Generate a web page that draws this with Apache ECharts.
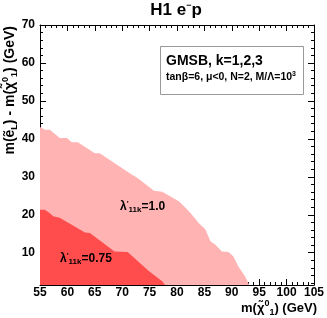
<!DOCTYPE html>
<html>
<head>
<meta charset="utf-8">
<script src="https://cdn.jsdelivr.net/npm/echarts@6/dist/echarts.min.js"></script>
<style>
html,body{margin:0;padding:0;background:#fff;}
#chart{width:327px;height:318px;}
</style>
</head>
<body>
<div id="chart"></div>
<script>
// ---- data ----
var xTickLabels = [55, 60, 65, 70, 75, 80, 85, 90, 95, 100, 105];
var yTickLabels = [10, 20, 30, 40, 50, 60, 70];
var yMinorTicks = [2, 4, 6, 8, 12, 14, 16, 18, 22, 24, 26, 28, 32, 34, 36, 38, 42, 44, 46, 48, 52, 54, 56, 58, 62, 64, 66, 68];

// lambda'_11k = 1.0 excluded region (upper boundary)
var lightX = [55, 55.9, 56.8, 58.6, 59.9, 60.8, 61.9, 65.0, 65.9, 71.3, 72.8, 75.8, 77.3, 80.4, 81.9, 82.5, 84.0, 85.2, 86.1, 87.0, 88.2, 89.4, 90.3, 91.2, 92.4, 93.2];
var lightY = [43.1, 42.4, 42.4, 40.2, 40.2, 39.1, 39.1, 36.2, 36.2, 31.0, 29.7, 26.3, 26.1, 23.5, 21.3, 20.4, 17.8, 16.1, 13.0, 12.1, 10.3, 10.2, 9.0, 6.4, 3.8, 1.5];

// lambda'_11k = 0.75 excluded region (upper boundary)
var darkX = [55, 55.9, 56.8, 57.4, 58.6, 63.2, 64.1, 68.6, 71.0, 74.9, 77.3, 77.8];
var darkY = [21.3, 21.3, 20.4, 19.6, 19.2, 15.3, 15.2, 10.3, 10.2, 5.1, 2.5, 1.5];

var xMin = 55, xMax = 105, yMin = 1.5, yMax = 70;

function zip(a, b) { var r = []; for (var i = 0; i < a.length; i++) r.push([a[i], b[i]]); return r; }

var FF = '"Liberation Sans", Arial, Helvetica, sans-serif';
var black = '#000';

function xAx(pos, showLabel) {
  return {
    type: 'value', position: pos, min: xMin, max: xMax, interval: 5,
    axisLine: { show: true, onZero: false, lineStyle: { color: black, width: 1 } },
    axisTick: { show: true, inside: true, length: 6, lineStyle: { color: black } },
    minorTick: { show: true, splitNumber: 5, length: 3, lineStyle: { color: black } },
    axisLabel: { show: showLabel, color: black, fontFamily: FF, fontWeight: 'bold', fontSize: 12, margin: 2 },
    splitLine: { show: false }, minorSplitLine: { show: false }
  };
}
function yAx(pos, major, showLabel) {
  return {
    type: 'value', position: pos, offset: 0, min: yMin, max: yMax,
    axisLine: { show: major, onZero: false, lineStyle: { color: black, width: 1 } },
    axisTick: { show: true, inside: true, length: major ? 6 : 3, customValues: major ? yTickLabels : yMinorTicks, lineStyle: { color: black } },
    axisLabel: { show: showLabel, customValues: yTickLabels, color: black, fontFamily: FF, fontWeight: 'bold', fontSize: 12, margin: 5 },
    splitLine: { show: false }
  };
}

var chart = echarts.init(document.getElementById('chart'), null, { renderer: 'canvas' });
chart.setOption({
  animation: false,
  backgroundColor: '#fff',
  grid: { left: 40, right: 11, top: 25, bottom: 33, containLabel: false },
  xAxis: [xAx('bottom', true), xAx('top', false)],
  yAxis: [yAx('left', true, true), yAx('left', false, false), yAx('right', true, false), yAx('right', false, false)],
  series: [
    { type: 'line', xAxisIndex: 0, yAxisIndex: 0, data: zip(lightX, lightY), symbol: 'none', silent: true,
      lineStyle: { width: 0 }, areaStyle: { color: '#ffb3b3', opacity: 1, origin: 'start' } },
    { type: 'line', xAxisIndex: 0, yAxisIndex: 0, data: zip(darkX, darkY), symbol: 'none', silent: true,
      lineStyle: { width: 0 }, areaStyle: { color: '#ff4d4d', opacity: 1, origin: 'start' } }
  ],
  graphic: [
    { type: 'text', x: 176, y: 10, z: 10, style: {
        text: '{a|H1 e}{s|−}{a|p}', align: 'center', verticalAlign: 'middle',
        rich: { a: { fontFamily: FF, fontWeight: 'bold', fontSize: 17, fill: black, lineHeight: 18 },
                s: { fontFamily: FF, fontWeight: 'bold', fontSize: 9, fill: black, verticalAlign: 'top', lineHeight: 10 } } } },
    { type: 'text', x: 10, y: 26, rotation: Math.PI / 2, z: 10, style: {
        text: '{a|m(ẽ}{b|L}{a|) - m(χ̃}{t|0}{b|1}{a|) (GeV)}', align: 'right', verticalAlign: 'middle',
        rich: { a: { fontFamily: FF, fontWeight: 'bold', fontSize: 14, fill: black, lineHeight: 18 },
                b: { fontFamily: FF, fontWeight: 'bold', fontSize: 9, fill: black, verticalAlign: 'bottom', lineHeight: 10 },
                t: { fontFamily: FF, fontWeight: 'bold', fontSize: 9, fill: black, verticalAlign: 'top', lineHeight: 10 } } } },
    { type: 'text', x: 317, y: 308, z: 10, style: {
        text: '{a|m(χ̃}{t|0}{b|1}{a|) (GeV)}', align: 'right', verticalAlign: 'middle',
        rich: { a: { fontFamily: FF, fontWeight: 'bold', fontSize: 13, fill: black, lineHeight: 18 },
                b: { fontFamily: FF, fontWeight: 'bold', fontSize: 9, fill: black, verticalAlign: 'bottom', lineHeight: 10 },
                t: { fontFamily: FF, fontWeight: 'bold', fontSize: 9, fill: black, verticalAlign: 'top', lineHeight: 10 } } } },
    { type: 'rect', shape: { x: 160.5, y: 46.5, width: 143, height: 48 }, z: 10,
      style: { fill: '#fff', stroke: '#9a9a9a', lineWidth: 1 } },
    { type: 'text', x: 166, y: 61, z: 11, style: {
        text: 'GMSB, k=1,2,3', fontFamily: FF, fontWeight: 'bold', fontSize: 14, fill: black, align: 'left', verticalAlign: 'middle' } },
    { type: 'text', x: 166, y: 77, z: 11, style: {
        text: '{a|tanβ=6, μ<0, N=2, M/Λ=10}{t|3}', align: 'left', verticalAlign: 'middle',
        rich: { a: { fontFamily: FF, fontWeight: 'bold', fontSize: 10.5, fill: black, lineHeight: 13 },
                t: { fontFamily: FF, fontWeight: 'bold', fontSize: 7, fill: black, verticalAlign: 'top', lineHeight: 8 } } } },
    { type: 'text', x: 120, y: 207, z: 11, style: {
        text: '{a|λ}{t|\'}{b|11k}{a|=1.0}', align: 'left', verticalAlign: 'middle',
        rich: { a: { fontFamily: FF, fontWeight: 'bold', fontSize: 12, fill: black, lineHeight: 14 },
                t: { fontFamily: FF, fontWeight: 'bold', fontSize: 8, fill: black, verticalAlign: 'top', lineHeight: 9 },
                b: { fontFamily: FF, fontWeight: 'bold', fontSize: 8, fill: black, verticalAlign: 'bottom', lineHeight: 9 } } } },
    { type: 'text', x: 60, y: 259, z: 11, style: {
        text: '{a|λ}{t|\'}{b|11k}{a|=0.75}', align: 'left', verticalAlign: 'middle',
        rich: { a: { fontFamily: FF, fontWeight: 'bold', fontSize: 12, fill: black, lineHeight: 14 },
                t: { fontFamily: FF, fontWeight: 'bold', fontSize: 8, fill: black, verticalAlign: 'top', lineHeight: 9 },
                b: { fontFamily: FF, fontWeight: 'bold', fontSize: 8, fill: black, verticalAlign: 'bottom', lineHeight: 9 } } } }
  ]
});
</script>
</body>
</html>
